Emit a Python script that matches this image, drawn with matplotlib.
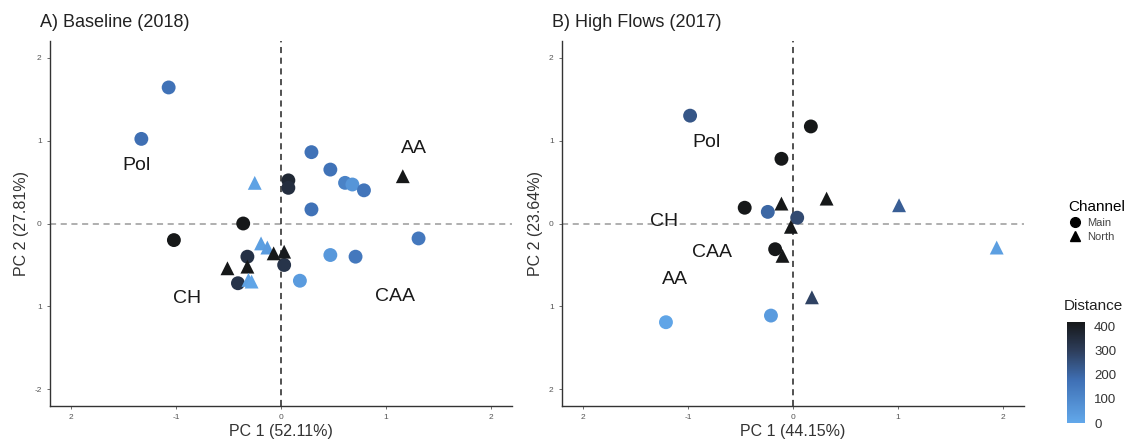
import numpy as np
import matplotlib
matplotlib.use("Agg")
import matplotlib.pyplot as plt
from matplotlib.colors import LinearSegmentedColormap
from matplotlib.lines import Line2D
from matplotlib.cm import ScalarMappable
from matplotlib.colors import Normalize

plt.rcParams['font.family'] = ['Liberation Sans', 'DejaVu Sans']

# Panel A: Baseline (2018)
a_pc1 = [-1.07, -1.33, -0.25, 0.07, 0.07, 0.29, 0.47, 0.61, 0.68, 0.79, 1.16, 0.29,
         -0.36, -1.02, 1.31, -0.19, -0.13, -0.07, 0.03, 0.03, 0.47, 0.71, 0.18,
         -0.51, -0.32, -0.32, -0.41, -0.31, -0.28]
a_pc2 = [1.64, 1.02, 0.49, 0.52, 0.43, 0.86, 0.65, 0.49, 0.47, 0.40, 0.57, 0.17,
         0.00, -0.20, -0.18, -0.24, -0.29, -0.36, -0.34, -0.50, -0.38, -0.40, -0.69,
         -0.54, -0.40, -0.52, -0.72, -0.68, -0.70]
a_channel = ['Main', 'Main', 'North', 'Main', 'Main', 'Main', 'Main', 'Main', 'Main', 'Main',
             'North', 'Main', 'Main', 'Main', 'Main', 'North', 'North', 'North', 'North',
             'Main', 'Main', 'Main', 'Main', 'North', 'Main', 'North', 'Main', 'North', 'North']
a_dist = [170, 180, 20, 370, 350, 170, 170, 120, 60, 160, 420, 170,
          420, 420, 150, 30, 40, 420, 410, 330, 50, 150, 40,
          420, 340, 420, 330, 20, 10]
a_labels = ['Pol', 'AA', 'CH', 'CAA']
a_lab_x = [-1.38, 1.27, -0.89, 1.09]
a_lab_y = [0.70, 0.90, -0.90, -0.88]

# Panel B: High Flows (2017)
b_pc1 = [-0.98, 0.17, -0.11, -0.46, -0.24, 0.04, -0.17, -0.21, -1.21,
         -0.11, -0.02, 0.32, 1.01, 1.94, -0.10, 0.18]
b_pc2 = [1.30, 1.17, 0.78, 0.19, 0.14, 0.07, -0.31, -1.11, -1.19,
         0.24, -0.04, 0.30, 0.22, -0.29, -0.39, -0.89]
b_channel = ['Main'] * 9 + ['North'] * 7
b_dist = [240, 420, 420, 420, 200, 270, 420, 40, 10,
          420, 420, 420, 220, 30, 420, 290]
b_labels = ['Pol', 'CH', 'CAA', 'AA']
b_lab_x = [-0.82, -1.23, -0.77, -1.12]
b_lab_y = [0.98, 0.02, -0.35, -0.67]

ticks = [-2, -1, 0, 1, 2]
a_xtick_labels = ['2', '-1', '0', '1', '2']
a_ytick_labels = ['-2', '1', '0', '1', '2']
b_xtick_labels = ['2', '-1', '0', '1', '2']
b_ytick_labels = ['2', '1', '0', '1', '2']

cmap = LinearSegmentedColormap.from_list(
    'dist', [(0.0, '#62a8ea'), (0.42, '#3f70b5'), (0.72, '#2d3d5a'), (1.0, '#161819')])
vmax = 420

fig = plt.figure(figsize=(11.32, 4.41), dpi=100)
axA = fig.add_axes([50 / 1132, 35 / 441, 462 / 1132, 365 / 441])
axB = fig.add_axes([562 / 1132, 35 / 441, 462 / 1132, 365 / 441])


def draw_panel(ax, pc1, pc2, channel, dist, labels, lx, ly, title, xlab, ylab, xtl, ytl):
    pc1 = np.array(pc1)
    pc2 = np.array(pc2)
    dist = np.array(dist)
    channel = np.array(channel)
    ax.axhline(0, color='#9a9a9a', ls=(0, (4, 3)), lw=1.1, zorder=1)
    ax.axvline(0, color='#222222', ls=(0, (4, 3)), lw=1.1, zorder=1)
    for ch, mk in [('Main', 'o'), ('North', '^')]:
        m = channel == ch
        ax.scatter(pc1[m], pc2[m], c=dist[m], cmap=cmap, vmin=0, vmax=vmax,
                   marker=mk, s=100, edgecolors='none', zorder=3)
    for t, x, y in zip(labels, lx, ly):
        ax.text(x, y, t, fontsize=14, color='#1a1a1a', ha='center', va='center', zorder=4)
    ax.set_xlim(-2.2, 2.2)
    ax.set_ylim(-2.2, 2.2)
    ax.set_xticks(ticks)
    ax.set_xticklabels(xtl)
    ax.set_yticks(ticks)
    ax.set_yticklabels(ytl)
    ax.tick_params(labelsize=6, colors='#555555', length=2.5, width=0.6)
    for s in ['top', 'right']:
        ax.spines[s].set_visible(False)
    for s in ['left', 'bottom']:
        ax.spines[s].set_color('#333333')
        ax.spines[s].set_linewidth(1.0)
    ax.set_xlabel(xlab, fontsize=11.5, color='#333333', labelpad=2)
    ax.set_ylabel(ylab, fontsize=11.5, color='#333333', labelpad=4)
    ax.set_title(title, fontsize=13, color='#222222', loc='left', x=-0.022, pad=10)


draw_panel(axA, a_pc1, a_pc2, a_channel, a_dist, a_labels, a_lab_x, a_lab_y,
           'A) Baseline (2018)', 'PC 1 (52.11%)', 'PC 2 (27.81%)', a_xtick_labels, a_ytick_labels)
draw_panel(axB, b_pc1, b_pc2, b_channel, b_dist, b_labels, b_lab_x, b_lab_y,
           'B) High Flows (2017)', 'PC 1 (44.15%)', 'PC 2 (23.64%)', b_xtick_labels, b_ytick_labels)

# Channel legend
handles = [Line2D([], [], marker='o', ls='none', color='black', markersize=7, label='Main'),
           Line2D([], [], marker='^', ls='none', color='black', markersize=7, label='North')]
leg = fig.legend(handles=handles, title='Channel', loc='upper left',
                 bbox_to_anchor=(1058 / 1132, 1 - 190 / 441), frameon=False,
                 fontsize=8, title_fontsize=11, handletextpad=0.5, labelspacing=0.35,
                 handlelength=1.2)
leg._legend_box.align = 'left'
for t in leg.get_texts():
    t.set_color('#444444')

# Distance colorbar
cax = fig.add_axes([1067 / 1132, 1 - 423 / 441, 18 / 1132, 101 / 441])
cb = fig.colorbar(ScalarMappable(norm=Normalize(0, vmax), cmap=cmap), cax=cax,
                  ticks=[0, 100, 200, 300, 400])
cb.outline.set_visible(False)
cb.ax.tick_params(labelsize=9.5, length=3, color='white', labelcolor='#333333')
fig.text(1064 / 1132, 1 - 306 / 441, 'Distance', fontsize=11, color='#222222', va='center')

fig.savefig('out.png', dpi=100)
